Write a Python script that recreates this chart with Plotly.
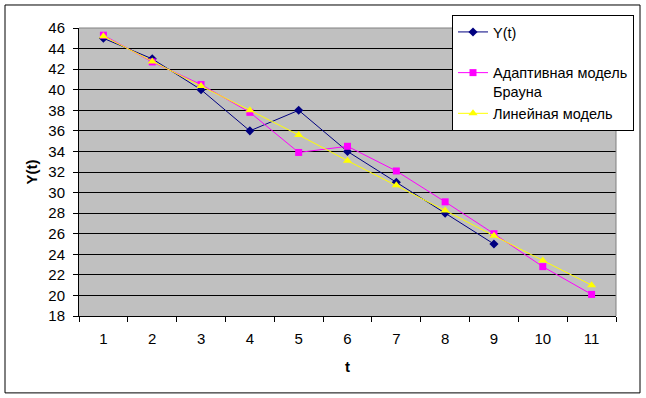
import plotly.graph_objects as go

t_labels = ["1", "2", "3", "4", "5", "6", "7", "8", "9", "10", "11"]
y_actual = [45, 43, 40, 36, 38, 34, 31, 28, 25]
y_brown = [45.3, 42.7, 40.5, 37.8, 33.9, 34.5, 32.1, 29.1, 26.0, 22.8, 20.1]
y_linear = [45.2, 42.75, 40.35, 38.0, 35.6, 33.1, 30.7, 28.25, 25.8, 23.4, 21.0]
y_ticks = list(range(18, 47, 2))

name_actual = "Y(t)<br>\u00a0"
name_brown = "Адаптивная модель<br>Брауна"
name_linear = "Линейная модель"

FONT = "Arial, 'Liberation Sans', sans-serif"
FS = 15
LFS = 14.5

fig = go.Figure()
fig.add_trace(go.Scatter(
    x=t_labels[:len(y_actual)], y=y_actual, name=name_actual, mode="lines+markers",
    line=dict(color="#000080", width=1),
    marker=dict(symbol="diamond", size=7, color="#000080"),
))
fig.add_trace(go.Scatter(
    x=t_labels, y=y_brown, name=name_brown, mode="lines+markers",
    line=dict(color="#FF00FF", width=1),
    marker=dict(symbol="square", size=7, color="#FF00FF"),
))
fig.add_trace(go.Scatter(
    x=t_labels, y=y_linear, name=name_linear, mode="lines+markers",
    line=dict(color="#FFFF00", width=1),
    marker=dict(symbol="triangle-up", size=8, color="#FFFF00"),
))

fig.update_layout(
    width=646, height=398,
    margin=dict(l=79, r=30, t=28, b=82, autoexpand=False),
    paper_bgcolor="white",
    plot_bgcolor="#C0C0C0",
    font=dict(family=FONT, size=FS, color="black"),
    showlegend=True,
    legend=dict(
        xref="container", yref="container",
        x=452 / 646, y=1 - 15 / 398, xanchor="left", yanchor="top",
        bgcolor="white", bordercolor="black", borderwidth=1,
        font=dict(family=FONT, size=LFS, color="black"),
        valign="top", tracegroupgap=0, itemwidth=30,
    ),
    xaxis=dict(
        type="category", range=[-0.5, 10.5],
        tickson="boundaries", ticks="outside", ticklen=5, tickcolor="black",
        showgrid=False, showline=True, linecolor="black", linewidth=1,
        ticklabelstandoff=9,
        title=dict(text="<b>t</b>", font=dict(size=FS), standoff=15),
        fixedrange=True,
    ),
    yaxis=dict(
        range=[18, 46], tickvals=y_ticks, ticks="outside", ticklen=5, tickcolor="black",
        showgrid=True, gridcolor="black", gridwidth=1,
        showline=True, linecolor="black", linewidth=1,
        zeroline=False, ticklabelstandoff=5,
        title=dict(text="<b>Y(t)</b>", font=dict(size=FS), standoff=7),
        fixedrange=True,
    ),
    shapes=[
        dict(type="path", xref="paper", yref="paper", path="M 0,1 L 1,1 L 1,0",
             line=dict(color="#808080", width=1), layer="above"),
        dict(type="rect", xref="paper", yref="paper",
             x0=-0.1378, x1=1.0447, y0=-0.267, y1=1.0799,
             line=dict(color="black", width=1), fillcolor="rgba(0,0,0,0)", layer="below"),
    ],
)

fig.write_html(
    "out.html",
    config={"displayModeBar": False, "staticPlot": True},
    post_script="document.body.style.margin='0';document.body.style.overflow='hidden';",
)
